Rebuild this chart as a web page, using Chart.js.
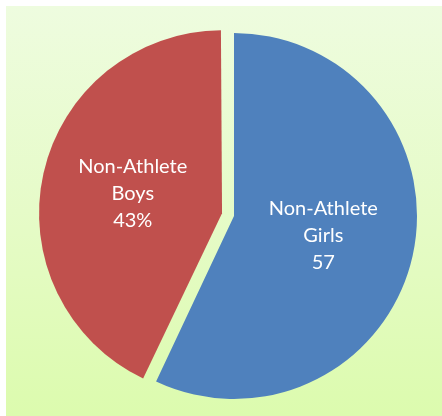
<!DOCTYPE html>
<html>
<head>
<meta charset="utf-8">
<script src="https://cdn.jsdelivr.net/npm/chart.js@4/dist/chart.umd.min.js"></script>
<style>
  html, body { margin: 0; padding: 0; background: #fff; }
  #wrap { position: relative; width: 442px; height: 416px; }
  #bg { position: absolute; left: 6px; top: 6px; width: 436px; height: 410px;
        background: linear-gradient(to bottom, #eefcdf 0%, #e6fbc8 50%, #dcfbae 100%); }
  #pieChart { position: absolute; left: 0; top: 0; }
</style>
</head>
<body>
<div id="wrap">
  <div id="bg"></div>
  <canvas id="pieChart" width="442" height="416"></canvas>
</div>
<script>
var categories = ["Non-Athlete Girls", "Non-Athlete Boys"];
var values = [57, 43];
var labelLines = [["Non-Athlete", "Girls", "57"], ["Non-Athlete", "Boys", "43%"]];
var colors = ["#4f81bd", "#c0504d"];
var offsets = [0, 49];
var pieRadius = 183;

// how far chart.js shifts an offset arc, and how much it grows it
function shiftOf(arc, i){
    var off = (offsets[i] || 0) / 4;
    var circ = arc.endAngle - arc.startAngle;
    var fix = 1 - Math.sin(Math.min(Math.PI, circ));
    return { move: off, grow: off * fix };
}

var sliceLabels = {
    id: 'sliceLabels',
    beforeDatasetsDraw: function(chart){
        // keep the exploded slice the same size as the other one
        chart.getDatasetMeta(0).data.forEach(function(arc, i){
            arc.outerRadius = pieRadius - shiftOf(arc, i).grow;
        });
    },
    afterDatasetsDraw: function(chart){
        var ctx = chart.ctx;
        var meta = chart.getDatasetMeta(0);
        ctx.save();
        ctx.fillStyle = "#ffffff";
        ctx.font = "20px Lato";
        ctx.textAlign = "center";
        ctx.textBaseline = "middle";
        meta.data.forEach(function(arc, i){
            var half = (arc.startAngle + arc.endAngle) / 2;
            var r = pieRadius / 2 + shiftOf(arc, i).move;
            var x = arc.x + Math.cos(half) * r;
            var y = arc.y + Math.sin(half) * r;
            var lines = labelLines[i];
            lines.forEach(function(t, j){
                ctx.fillText(t, x, y + (j - (lines.length - 1) / 2) * 27);
            });
        });
        ctx.restore();
    }
};

var ctxP = document.getElementById("pieChart").getContext('2d');
var myPie = new Chart(ctxP, {
    type: 'pie',
    data: {
        labels: categories,
        datasets: [{
            data: values,
            backgroundColor: colors,
            borderWidth: 0,
            offset: offsets
        }]
    },
    options: {
        responsive: false,
        animation: false,
        radius: pieRadius,
        layout: { padding: { left: 26, right: 0, top: 16, bottom: 0 } },
        plugins: {
            legend: { display: false },
            tooltip: { enabled: false }
        }
    },
    plugins: [sliceLabels]
});
</script>
</body>
</html>
